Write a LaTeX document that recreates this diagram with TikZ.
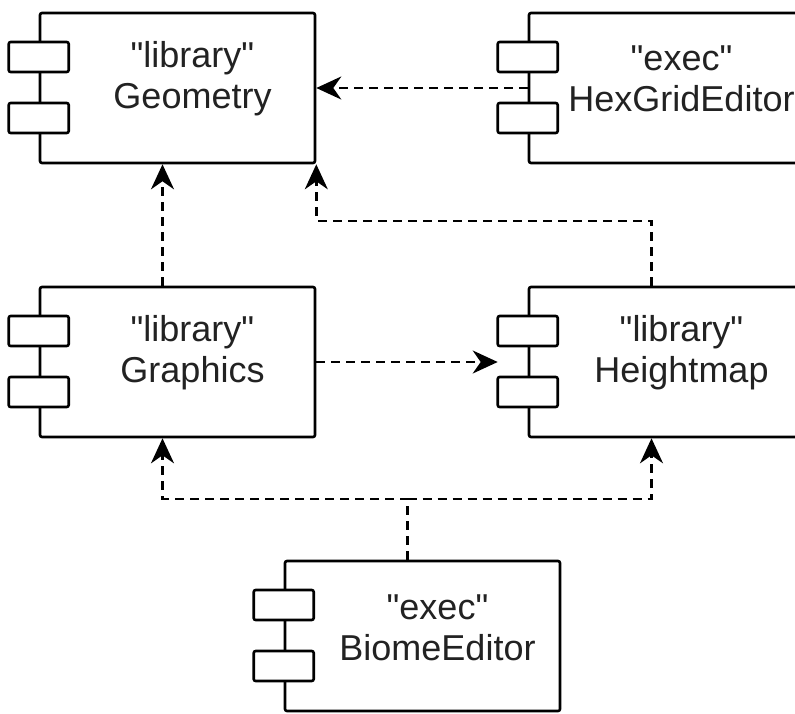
\documentclass[tikz,border=0pt]{standalone}
\usepackage{fontspec}
\setmainfont{Liberation Sans}
\usetikzlibrary{arrows.meta}
\definecolor{txt}{RGB}{34,34,34}
\newcommand{\qq}{\textquotedbl}
\tikzset{
  comp/.style={draw=black, line width=2.6pt, rounded corners=2pt, fill=white,
    minimum width=275pt, minimum height=150pt, inner sep=0pt},
  tab/.style={draw=black, line width=2.6pt, rounded corners=2pt, fill=white,
    minimum width=60pt, minimum height=30pt, inner sep=0pt},
  lbl/.style={align=center, text=txt, font=\fontsize{36}{41}\selectfont, inner sep=0pt},
  dep/.style={draw=black, line width=2.4pt, dash pattern=on 9pt off 6pt,
    -{Stealth[length=25pt, width=23pt, inset=8pt]}},
}
\begin{document}
\begin{tikzpicture}[x=1pt, y=-1pt]
\useasboundingbox (0,0) rectangle (795,713);
% boxes
\node[comp] (geo) at (177.5,88) {};
\node[comp] (hex) at (666.5,88) {};
\node[comp] (gra) at (177.5,362) {};
\node[comp] (hei) at (666.5,362) {};
\node[comp] (bio) at (422.5,636) {};
% tabs
\foreach \b in {geo,hex,gra,hei,bio}{
  \node[tab] (\b T1) at ([yshift=31pt]\b.west) {};
  \node[tab] (\b T2) at ([yshift=-30pt]\b.west) {};
}
% labels
\node[lbl] (geoL) at ([xshift=15pt,yshift=9pt]geo.center) {\qq library\qq\\Geometry};
\node[lbl] (hexL) at ([xshift=15pt,yshift=9pt]hex.center) {\qq exec\qq\\HexGridEditor};
\node[lbl] (graL) at ([xshift=15pt,yshift=9pt]gra.center) {\qq library\qq\\Graphics};
\node[lbl] (heiL) at ([xshift=15pt,yshift=9pt]hei.center) {\qq library\qq\\Heightmap};
\node[lbl] (bioL) at ([xshift=15pt,yshift=8pt]bio.center) {\qq exec\qq\\BiomeEditor};
% connectors
\draw[dep] (hex.west) -- (geo.east);
\draw[dep] ([xshift=-15pt]gra.north) -- ([xshift=-15pt]geo.south);
\draw[dep] ([xshift=-15pt]hei.north) -- ++(0,-65) -| (geo.south east);
\draw[dep] (gra.east) -- ([xshift=-30pt]hei.west);
\coordinate (split) at ([xshift=-15pt,yshift=61pt]bio.north);
\draw[dep] ([xshift=-15pt]bio.north) -- (split) -| ([xshift=-15pt]gra.south);
\draw[dep] (split) -| ([xshift=-15pt]hei.south);
\end{tikzpicture}
\end{document}
